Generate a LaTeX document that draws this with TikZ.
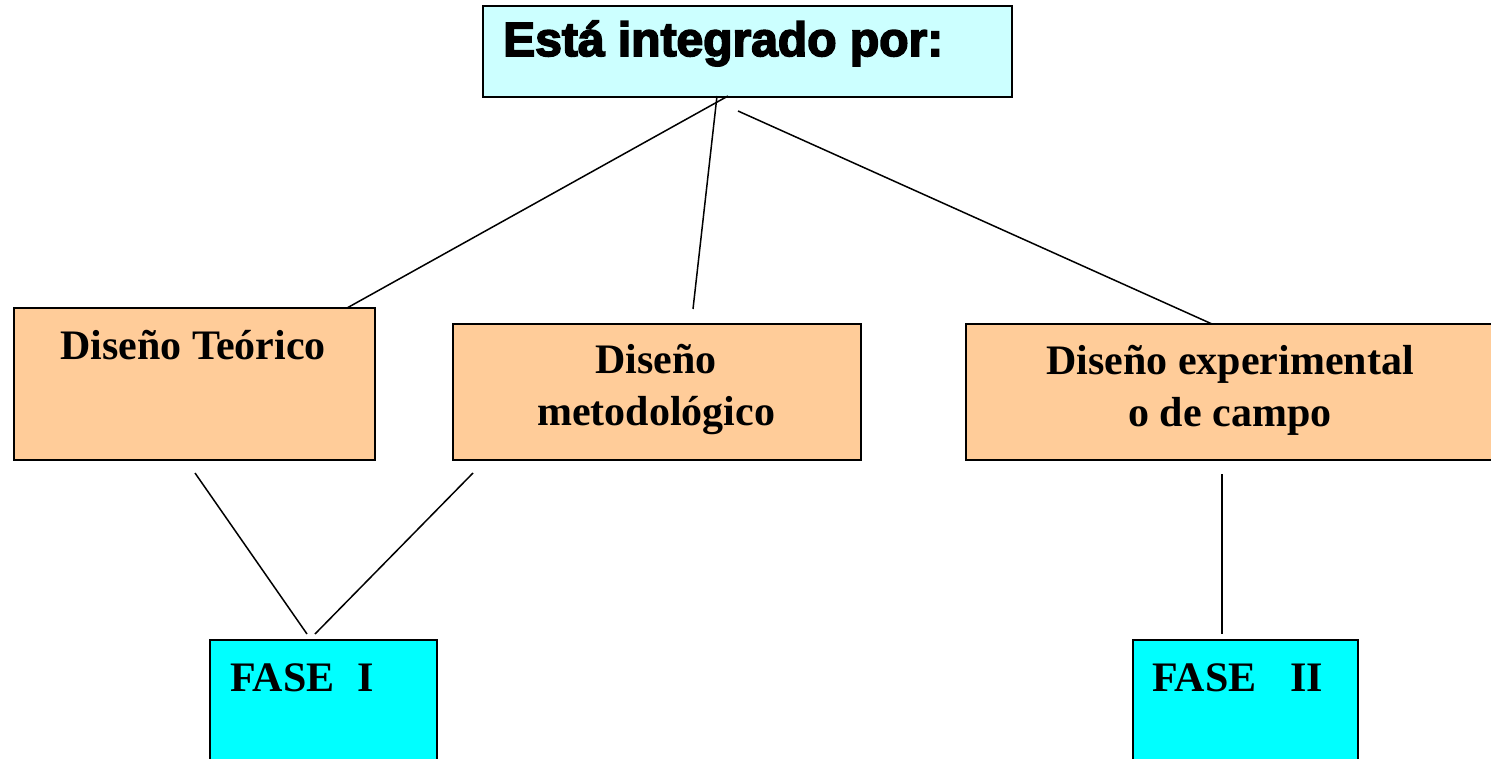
\documentclass[tikz,border=0pt]{standalone}
\usepackage{fontspec}
\setmainfont{Liberation Serif}
\newfontfamily\heavyfont[FakeBold=3.5]{Liberation Sans}
\usetikzlibrary{calc}
\definecolor{Head}{RGB}{204, 255, 255}
\definecolor{Design}{RGB}{255, 204, 153}
\definecolor{Phase}{RGB}{0, 255, 255}
\tikzset{
    box/.style={draw=black, line width=2pt, anchor=north west, inner sep=0pt},
    link/.style={line width=1.5pt},
    boxtext/.style={inner sep=0pt, align=center, font=\fontsize{42}{52}\selectfont\bfseries},
}

\begin{document}
\begin{tikzpicture}[x=1pt, y=-1pt]
    %%Background
    \useasboundingbox (0,0) rectangle (1491,759);

    %% Head
    \node[box, fill=Head, minimum width=529pt, minimum height=91pt] (head) at (482,5) {};
    \node[inner sep=0pt, anchor=base west, font=\fontsize{48}{50}\selectfont\heavyfont\bfseries] (headtext) at (503,56) {Está integrado por:};

    %% Designs
    \node[box, fill=Design, minimum width=361pt, minimum height=152pt] (teorico) at (13,307) {};
    \node[box, fill=Design, minimum width=408pt, minimum height=136pt] (metodo) at (452,323) {};
    \node[box, fill=Design, minimum width=540pt, minimum height=136pt] (campo) at (965,323) {};
    \node[boxtext, anchor=base] (teoricotext) at (193,359) {Diseño Teórico};
    \node[boxtext] (metodotext) at (656,390) {Diseño\\metodológico};
    \node[boxtext] (campotext) at (1230,390) {Diseño experimental\\o de campo};

    %% Phases
    \node[box, fill=Phase, minimum width=227pt, minimum height=140pt] (faseI) at (209,639) {};
    \node[box, fill=Phase, minimum width=225pt, minimum height=140pt] (faseII) at (1132,639) {};
    \node[boxtext, anchor=base west] (faseItext) at (230,691) {FASE\hspace{23pt}I};
    \node[boxtext, anchor=base west] (faseIItext) at (1152,691) {FASE\hspace{34pt}II};

    %% Links
    \coordinate (headA) at (728,96);
    \coordinate (headB) at (717,96);
    \coordinate (headC) at (738,111);
    \coordinate (teoricoTop) at (347,308);
    \coordinate (metodoTop) at (693,309);
    \coordinate (campoTop) at (1212,324);
    \coordinate (teoricoBot) at (195,473);
    \coordinate (metodoBot) at (473,473);
    \coordinate (campoBot) at (1222,474);
    \coordinate (faseIa) at (307,634);
    \coordinate (faseIb) at (315,634);
    \coordinate (faseIIa) at (1222,634);

    \draw[link] (headA) -- (teoricoTop);
    \draw[link] (headB) -- (metodoTop);
    \draw[link] (headC) -- (campoTop);
    \draw[link] (teoricoBot) -- (faseIa);
    \draw[link] (metodoBot) -- (faseIb);
    \draw[link] (campoBot) -- (faseIIa);

\end{tikzpicture}
\end{document}
